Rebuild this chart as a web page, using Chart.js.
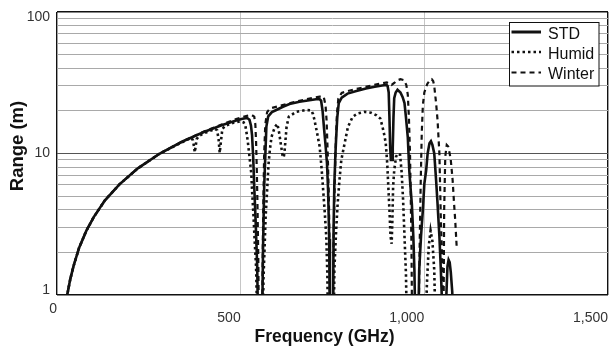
<!DOCTYPE html>
<html><head><meta charset="utf-8">
<script src="https://cdn.jsdelivr.net/npm/chart.js@4.4.1/dist/chart.umd.min.js"></script>
<style>html,body{margin:0;padding:0;background:#fff;}#wrap{width:610px;height:348px;}</style>
</head><body><div id="wrap"><canvas id="c" width="610" height="348"></canvas></div>
<script>
// ---- data ----
const seriesNames = ['STD', 'Humid', 'Winter'];

const stdFreq  = [26,30,36,45,60,80,100,130,170,220,280,340,400,450,490,505,518,524,528,531,534,537,541,545,548,558,561,564,567,570,575,585,597,615,633,660,687,705,714,719,723,727,731,735,738,741,743,751,753,755,758,760,763,767,775,791,815,841,865,885,897,900,903,905,907,909,912,914,916,918,922,927,935,941,946,950,955,959,963,966,970,973,976,983,986,991,996,1000,1005,1009,1014,1018,1022,1027,1032,1036,1041,1045,1048,1050,1058,1060,1063,1066,1069,1072,1076,1079];
const stdRange = [0.95,1.07,1.29,1.6,2.15,2.85,3.55,4.65,6.05,7.85,10.0,12.1,14.2,15.9,17.2,17.6,17.8,17.3,15.8,13.5,9.5,5.8,3.2,1.6,0.5,0.5,2.2,5.8,9.5,15.5,18.3,19.6,20.3,21.4,22.4,23.2,23.8,24.2,24.3,23.6,20,15,11.5,8.5,5.5,2.5,0.5,0.5,3,6,10,13,18,22.7,24.8,26.5,27.6,28.8,29.6,30.2,30.5,30,27,18,11,9,9,11,18,24.6,27,28.2,27,25,22.7,18,13,7.6,5.5,4.4,2.6,1.5,0.5,0.5,1.5,2.6,4.0,6.1,7.6,10,11.8,12.2,11.5,10,6.5,4.4,2.6,1.5,0.9,0.5,0.5,1.0,1.6,1.77,1.7,1.45,1.05,0.5];

const humidFreq  = [26,30,36,45,60,80,100,130,170,220,280,340,366,370,373,375,377,380,386,400,430,436,440,443,446,450,456,480,500,508,513,517,520,524,529,531,535,538,542,546,560,562,565,568,572,576,580,584,593,600,605,609,614,617,619,622,625,631,651,678,692,697,701,708,715,720,724,729,733,736,738,753,755,760,764,769,774,783,792,805,819,837,855,870,880,886,891,895,899,902,905,908,911,913,915,918,923,928,934,938,942,946,950,953,1003,1007,1012,1017,1022,1027,1031];
const humidRange = [0.95,1.07,1.29,1.6,2.15,2.85,3.55,4.65,6.05,7.85,10.0,12.0,12.9,12.4,11.2,10.2,11,12.6,13.3,13.9,14.9,14.6,12.5,10.1,12,14.8,15.6,16.5,16.9,16.6,15.6,13.5,11.8,9.5,7.2,5.5,3.6,2.45,1.58,0.5,0.5,1.3,2.1,3.6,5.5,8.5,10.9,13.1,15.4,16.2,13.9,11.8,9.7,9.4,10,12.4,15.5,18.2,19.7,20.3,20.2,19,17.2,14,11.2,8,5.8,3.8,2.6,1.4,0.5,0.5,1.5,2.9,4.4,6.5,9,11.8,15.4,18.2,19.2,19.7,19.4,18.6,17.7,15.5,13.5,11.8,8.5,5.8,4.0,2.6,2.3,3.4,5.8,7.6,9.5,10,9.8,7.5,4.8,2.6,1.4,0.5,0.5,1.2,2.2,2.85,2.4,1.5,0.5];

const winterFreq  = [26,30,36,45,60,80,100,130,170,220,280,340,400,450,490,515,530,537,540,542,544,546,548,550,558,560,562,564,567,572,580,600,640,680,715,726,731,734,737,740,742,744,751,753,756,759,762,766,775,791,820,850,880,898,905,911,918,925,935,945,951,955,958,961,963,965,967,984,987,990,993,996,1000,1008,1015,1020,1024,1027,1032,1036,1041,1043,1045,1048,1050,1052,1054,1057,1061,1065,1069,1072,1077,1081,1084,1088];
const winterRange = [0.95,1.07,1.29,1.6,2.15,2.85,3.55,4.65,6.05,7.85,10.0,12.1,14.3,16.1,17.6,18.4,18.7,18.2,16,12,7.5,4,1.8,0.5,0.5,2,5,10,16,19.6,20.8,21.5,22.9,24.2,25.2,25.2,22,17,10,5,2.3,0.5,0.5,2.5,6,12,19,24.5,26.8,27.6,28.8,30,31.2,31.8,31.2,30.5,31.5,32.8,33.5,33,30.5,26,18,10,5,2.2,0.5,0.5,2,6,14,22,27,31,33,33.5,32.5,30,22.7,17.2,10,5.8,3.4,1.96,1.2,0.5,4,9.5,11.5,11.2,10,9,6.5,4.4,3.4,2.2];

// axis ticks and labels
const xTicks = [0, 500, 1000, 1500];
const xTickLabels = ['0', '500', '1,000', '1,500'];
const yGridValues = [1,2,3,4,5,6,7,8,9,10,20,30,40,50,60,70,80,90,100];
const yLabelValues = [1, 10, 100];
const yTickLabels = ['1', '10', '100'];
const xTitle = 'Frequency (GHz)';
const yTitle = 'Range (m)';

// ---- chart ----
const FONT = "'Liberation Sans', Arial, Helvetica, sans-serif";
Chart.defaults.font.family = FONT;

function points(fx, fy) { return fx.map((x, i) => ({ x: x, y: fy[i] })); }

const overlay = {
  id: 'overlay',
  afterDraw(chart) {
    const ctx = chart.ctx;
    const a = chart.chartArea;
    ctx.save();
    // axis titles
    ctx.fillStyle = '#111';
    ctx.textAlign = 'center';
    ctx.textBaseline = 'alphabetic';
    ctx.font = 'bold 17.5px ' + FONT;
    ctx.fillText(xTitle, (a.left + a.right) / 2 - 8, 342);
    ctx.save();
    ctx.translate(22.5, (a.top + a.bottom) / 2 - 7.5);
    ctx.rotate(-Math.PI / 2);
    ctx.font = 'bold 18.5px ' + FONT;
    ctx.fillText(yTitle, 0, 0);
    ctx.restore();
    // legend box
    const bx = 509.5, by = 22.5, bw = 89.5, bh = 63.5;
    ctx.fillStyle = '#fff';
    ctx.fillRect(bx, by, bw, bh);
    ctx.strokeStyle = '#111';
    ctx.lineWidth = 1;
    ctx.setLineDash([]);
    ctx.strokeRect(bx, by, bw, bh);
    const rows = [32, 52, 72.5];
    chart.data.datasets.forEach((ds, i) => {
      const y = rows[i];
      ctx.beginPath();
      ctx.setLineDash(ds.borderDash || []);
      ctx.lineWidth = i === 0 ? 3 : ds.borderWidth;
      ctx.strokeStyle = ds.borderColor;
      ctx.moveTo(511.5, y);
      ctx.lineTo(541, y);
      ctx.stroke();
      ctx.setLineDash([]);
      ctx.fillStyle = '#111';
      ctx.font = '16px ' + FONT;
      ctx.textAlign = 'left';
      ctx.textBaseline = 'middle';
      ctx.fillText(ds.label, 548, y + 2.5);
    });
    ctx.restore();
  }
};

new Chart(document.getElementById('c').getContext('2d'), {
  type: 'line',
  data: {
    datasets: [
      { label: seriesNames[0], data: points(stdFreq, stdRange), borderColor: '#111', borderWidth: 2.6,
        pointRadius: 0, tension: 0, fill: false },
      { label: seriesNames[1], data: points(humidFreq, humidRange), borderColor: '#111', borderWidth: 2.6,
        borderDash: [2.5, 3], pointRadius: 0, tension: 0, fill: false },
      { label: seriesNames[2], data: points(winterFreq, winterRange), borderColor: '#111', borderWidth: 2.2,
        borderDash: [5, 4], pointRadius: 0, tension: 0, fill: false }
    ]
  },
  options: {
    responsive: false,
    animation: false,
    layout: { padding: { left: 0, top: 12, right: 2, bottom: 0 } },
    plugins: { legend: { display: false }, tooltip: { enabled: false } },
    scales: {
      x: {
        type: 'linear', min: 0, max: 1500,
        afterBuildTicks: s => { s.ticks = xTicks.map(v => ({ value: v })); },
        afterFit: s => { s.height = 53; s.paddingLeft = 0; s.paddingRight = 0; },
        ticks: {
          autoSkip: false, maxRotation: 0, minRotation: 0, align: 'end', padding: 9,
          color: '#333', font: { size: 14, lineHeight: 0.68 },
          callback: v => {
            const i = xTicks.indexOf(v);
            const t = i >= 0 ? xTickLabels[i] : '';
            return i === 0 ? t : ['', t];
          }
        },
        grid: {
          drawTicks: false,
          color: c => (c.tick && (c.tick.value === 0 || c.tick.value === 1500)) ? '#111' : '#c6c6c6',
          lineWidth: c => (c.tick && (c.tick.value === 0 || c.tick.value === 1500)) ? 1.4 : 1
        },
        border: { display: false },
        title: { display: false, text: xTitle }
      },
      y: {
        type: 'logarithmic', min: 1, max: 100,
        afterBuildTicks: s => { s.ticks = yGridValues.map(v => ({ value: v })); },
        afterFit: s => { s.width = 57; s.paddingTop = 0; s.paddingBottom = 0; },
        ticks: {
          autoSkip: false, padding: 7, color: '#333', font: { size: 14, lineHeight: 0.68 },
          callback: v => {
            const i = yLabelValues.indexOf(v);
            if (i < 0) return '';
            if (i === 0) return [yTickLabels[i], ''];
            if (i === yLabelValues.length - 1) return ['', yTickLabels[i]];
            return yTickLabels[i];
          }
        },
        grid: {
          drawTicks: false,
          color: c => {
            const v = c.tick && c.tick.value;
            return (v === 1 || v === 100) ? '#111' : (v === 10 ? '#555' : '#a9a9a9');
          },
          lineWidth: c => {
            const v = c.tick && c.tick.value;
            return (v === 1 || v === 100) ? 1.4 : 1;
          }
        },
        border: { display: false },
        title: { display: false, text: yTitle }
      }
    }
  },
  plugins: [overlay]
});
</script>
</body></html>
